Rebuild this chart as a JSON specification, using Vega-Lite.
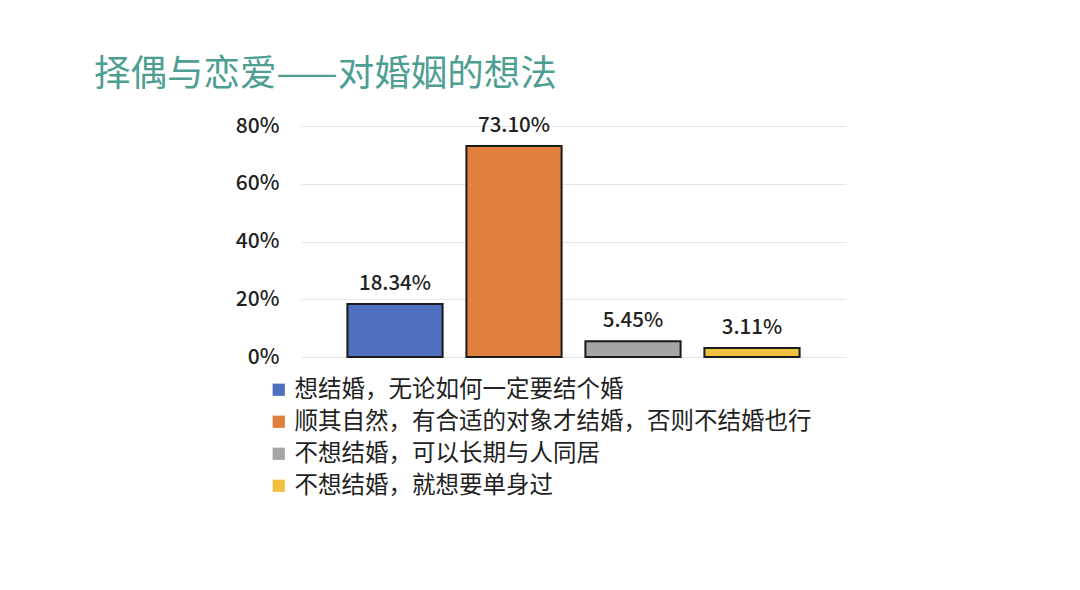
{
  "$schema": "https://vega.github.io/schema/vega-lite/v6.json",
  "autosize": {"type": "none"},
  "padding": {"left": 301, "top": 126, "right": 234, "bottom": 233},
  "width": 545,
  "height": 231,
  "background": "white",
  "config": {
    "view": {"stroke": null},
    "font": "Noto Sans CJK SC"
  },
  "title": {
    "text": "择偶与恋爱——对婚姻的想法",
    "anchor": "start",
    "frame": "group",
    "dx": -207,
    "offset": 22,
    "fontSize": 36.5,
    "fontWeight": "normal",
    "color": "#4e9e92",
    "font": "Noto Sans CJK SC"
  },
  "data": {
    "values": [
      {"opinion": "想结婚，无论如何一定要结个婚", "share": 0.1834},
      {"opinion": "顺其自然，有合适的对象才结婚，否则不结婚也行", "share": 0.731},
      {"opinion": "不想结婚，可以长期与人同居", "share": 0.0545},
      {"opinion": "不想结婚，就想要单身过", "share": 0.0311}
    ]
  },
  "encoding": {
    "x": {
      "field": "opinion",
      "type": "nominal",
      "sort": null,
      "axis": null,
      "scale": {"paddingInner": 0.2, "paddingOuter": 0.39}
    },
    "y": {
      "field": "share",
      "type": "quantitative",
      "scale": {"domain": [0, 0.8]},
      "axis": {
        "values": [0, 0.2, 0.4, 0.6, 0.8],
        "format": ".0%",
        "title": null,
        "domain": false,
        "ticks": false,
        "labelPadding": 22,
        "labelFontSize": 21,
        "labelFontWeight": 500,
        "labelColor": "#222222",
        "gridColor": "#e6e6e6",
        "gridWidth": 1
      }
    }
  },
  "layer": [
    {
      "mark": {"type": "bar", "stroke": "#1a1a1a", "strokeWidth": 2},
      "encoding": {
        "color": {
          "field": "opinion",
          "type": "nominal",
          "sort": null,
          "scale": {
            "domain": [
              "想结婚，无论如何一定要结个婚",
              "顺其自然，有合适的对象才结婚，否则不结婚也行",
              "不想结婚，可以长期与人同居",
              "不想结婚，就想要单身过"
            ],
            "range": ["#4e70be", "#e07f3e", "#a5a5a5", "#f0c040"]
          },
          "legend": {
            "title": null,
            "orient": "none",
            "legendX": -34,
            "legendY": 252,
            "direction": "vertical",
            "symbolType": "square",
            "symbolSize": 150,
            "symbolStrokeWidth": 0,
            "labelFontSize": 23.5,
            "labelColor": "#222222",
            "labelLimit": 800,
            "rowPadding": 7,
            "labelOffset": 4
          }
        }
      }
    },
    {
      "mark": {"type": "text", "dy": -20, "fontSize": 20.5, "fontWeight": 500, "color": "#222222"},
      "encoding": {
        "text": {"field": "share", "type": "quantitative", "format": ".2%"}
      }
    }
  ]
}
